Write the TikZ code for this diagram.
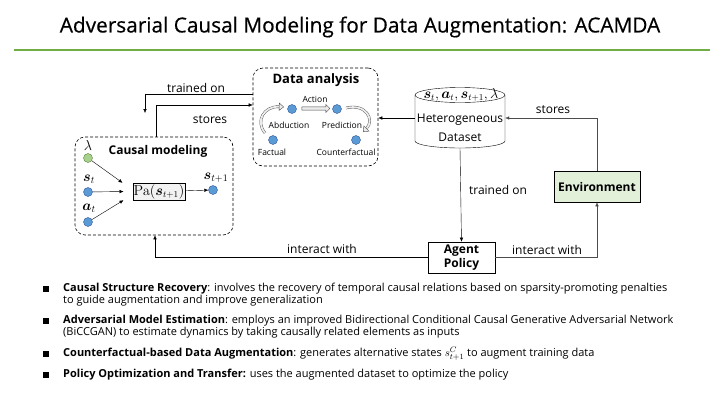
\documentclass[tikz,border=0pt]{standalone}
\usepackage[no-math]{fontspec}
\setmainfont{Open Sans}
\newfontfamily\titlefont{Open Sans}[FakeBold=0.5]
\usepackage{amsmath,bm}
\usetikzlibrary{arrows.meta,shapes.arrows,positioning}

\definecolor{titlegreen}{HTML}{70AD47}
\definecolor{dotblue}{HTML}{5B9BD5}
\definecolor{dotedge}{HTML}{2F5597}
\definecolor{dotgreen}{HTML}{A9D18E}
\definecolor{dotgreenedge}{HTML}{548235}
\definecolor{envfill}{HTML}{E2F0D9}

\begin{document}
\begin{tikzpicture}[x=1pt, y=-1pt, >={Latex[length=4pt,width=3.5pt]},
    dashbox/.style={draw, semithick, dash pattern=on 3pt off 2pt, rounded corners=10pt, inner sep=0pt},
    dot/.style={circle, draw=dotedge, fill=dotblue, minimum size=9pt, inner sep=0pt},
    mathlbl/.style={inner sep=0pt, font=\fontsize{14}{16}\selectfont},
    lbl/.style={font=\fontsize{12}{14}\selectfont, inner sep=1pt},
    small/.style={font=\fontsize{8.5}{10}\selectfont, inner sep=0.5pt},
    head/.style={font=\bfseries\fontsize{13}{15}\selectfont, inner sep=1pt},
    plainbox/.style={draw, semithick, align=center, inner sep=1pt, font=\bfseries\fontsize{12}{14}\selectfont},
    hollow/.style={draw=black!70, double=gray!15, double distance=1.8pt, -{Triangle[open, fill=gray!15, length=5pt, width=8pt]}},
    sq/.style={rectangle, fill=black, minimum size=5.5pt, inner sep=0pt},
    bullettext/.style={anchor=north west, align=left, inner sep=0pt, font=\fontsize{11}{12.5}\selectfont}]
    \useasboundingbox (0,0) rectangle (720,405);

    % title
    \node (title) at (360,27) {\titlefont\fontsize{20.8}{24}\selectfont Adversarial Causal Modeling for Data Augmentation: ACAMDA};
    \draw[line width=2pt, titlegreen] (14,50) -- (710,50);

    % causal modeling
    \node[dashbox, minimum width=158, minimum height=98] (cm) at (154,186) {};
    \node[head, font=\bfseries\fontsize{12}{14}\selectfont] (cmtitle) at (158,151) {Causal modeling};
    \node[dot, fill=dotgreen, draw=dotgreenedge] (lam) at (88,158) {};
    \node[mathlbl] (lamtext) at (88,145) {$\lambda$};
    \node[dot] (st) at (88,192) {};
    \node[mathlbl] (sttext) at (89,179) {$\bm{s}_t$};
    \node[dot] (at) at (88,222) {};
    \node[mathlbl] (attext) at (89,208) {$\bm{a}_t$};
    \node[draw, fill=black!5, minimum width=52, minimum height=17, inner sep=1pt, font=\fontsize{13.5}{15}\selectfont] (pa) at (159,191.5) {$\mathrm{Pa}(\bm{s}_{t+1})$};
    \node[dot] (snext) at (213,190) {};
    \node[mathlbl] (snexttext) at (216,178) {$\bm{s}_{t+1}$};
    \draw[->] (lam) -- ([xshift=-10pt]pa.north west);
    \draw[->] (st) -- ([xshift=-9pt]pa.west);
    \draw[->] (at) -- ([xshift=-9pt]pa.south west);
    \draw[->] (pa) -- (snext);

    % data analysis
    \node[dashbox, minimum width=125, minimum height=98] (da) at (315.5,117) {};
    \node[head] (datitle) at (316,80) {Data analysis};
    \node[dot] (act) at (292,109) {};
    \node[dot] (pred) at (337,109) {};
    \node[dot] (fac) at (273,140) {};
    \node[dot] (cf) at (356,140) {};
    \node[small] (acttext) at (315,99) {Action};
    \node[small] (abdtext) at (289,125) {Abduction};
    \node[small] (predtext) at (342,125) {Prediction};
    \node[small] (factext) at (272,152) {Factual};
    \node[small] (cftext) at (346,152) {Counterfactual};
    \node[single arrow, draw=black!70, fill=gray!15, minimum height=28pt, minimum width=8pt,
        single arrow head extend=1.5pt, inner sep=0.8pt] (actarrow) at (315,108.5) {};
    \draw[hollow] (265,133) .. controls (255,121) and (264,106) .. (284,107);
    \draw[hollow] (346,108) .. controls (366,103) and (375,120) .. (363,132);

    % dataset
    \node[minimum width=90, minimum height=60, inner sep=0pt] (db) at (460,118) {};
    \draw (415,95) -- (415,141) arc[start angle=180, end angle=0, x radius=45, y radius=7] -- (505,95);
    \draw (460,95) ellipse[x radius=45, y radius=7.5];
    \node[mathlbl, font=\fontsize{13.5}{15}\selectfont] (dbtop) at (461,95) {$\bm{s}_t,\bm{a}_t,\bm{s}_{t+1},\lambda$};
    \node[lbl, align=center, font=\fontsize{12}{19}\selectfont] (dbtext) at (460,128) {Heterogeneous\\Dataset};

    % agent and environment
    \node[plainbox, minimum width=67, minimum height=31, font=\bfseries\fontsize{12}{14}\selectfont] (ag) at (461.5,257.5) {Agent\\Policy};
    \node[plainbox, fill=envfill, minimum width=86, minimum height=31] (env) at (597,186.5) {Environment};

    % connectors
    \coordinate (cmin) at (145,113);
    \draw[->] ([yshift=23pt]da.west) -| (cmin);
    \node[lbl] (l1) at (196,88) {trained on};
    \draw[->] ([xshift=2pt]cm.north) |- ([yshift=12pt]da.west);
    \node[lbl] (l2) at (210,120) {stores};
    \draw[->] (db.west) -- (db.west -| da.east);
    \draw[->] (db.south) -- (ag.north);
    \node[lbl] (l3) at (498,190) {trained on};
    \draw[->, black!70] (env.north) |- (db.east);
    \node[lbl] (l4) at (553,110) {stores};
    \draw[->, black!70] (ag.east) -| (env.south);
    \node[lbl] (l5) at (547,250) {interact with};
    \draw[->] (ag.west) -| ([xshift=1pt]cm.south);
    \node[lbl] (l6) at (322,249) {interact with};

    % bullets
    \node[sq] (b1) at (46,289) {};
    \node[bullettext] (t1) at (63,282.5) {\textbf{Causal Structure Recovery}: involves the recovery of temporal causal relations based on sparsity-promoting penalties\\to guide augmentation and improve generalization};
    \node[sq] (b2) at (46,321) {};
    \node[bullettext] (t2) at (63,314.5) {\textbf{Adversarial Model Estimation}: employs an improved Bidirectional Conditional Causal Generative Adversarial Network\\(BiCCGAN) to estimate dynamics by taking causally related elements as inputs};
    \node[sq] (b3) at (46,354) {};
    \node[bullettext] (t3) at (63,347.5) {\textbf{Counterfactual-based Data Augmentation}: generates alternative states $\smash{s_{t+1}^{C}}$ to augment training data};
    \node[sq] (b4) at (46,375) {};
    \node[bullettext] (t4) at (63,368.5) {\textbf{Policy Optimization and Transfer:} uses the augmented dataset to optimize the policy};
\end{tikzpicture}
\end{document}
